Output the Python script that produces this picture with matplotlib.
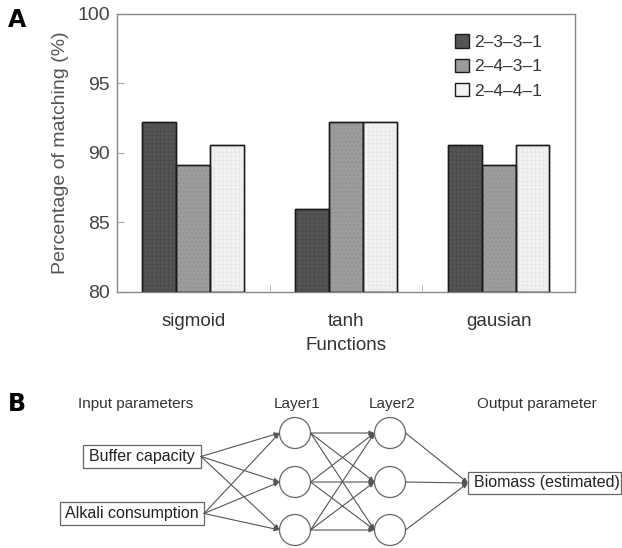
#!/usr/bin/env python3
"""
Matching percentage by activation function (A) and network sketch (B)
"""

import matplotlib
matplotlib.use('Agg')
import matplotlib.pyplot as plt
from matplotlib.patches import Circle, Rectangle, FancyArrowPatch
import numpy as np

plt.rcParams['font.family'] = ['Liberation Sans', 'DejaVu Sans']
plt.rcParams['hatch.linewidth'] = 0.5

# Panel A data
functions = ['sigmoid', 'tanh', 'gausian']
architectures = ['2–3–3–1', '2–4–3–1', '2–4–4–1']
match_2331 = [92.2, 86.0, 90.6]
match_2431 = [89.1, 92.2, 89.1]
match_2441 = [90.6, 92.2, 90.6]

# Panel B labels
input_names = ['Buffer capacity', 'Alkali consumption']
output_name = 'Biomass (estimated)'
layer_names = ['Layer1', 'Layer2']


def draw_bars(fig):
    ax = fig.add_axes([0.188, 0.4672, 0.7363, 0.5073])
    x = np.arange(len(functions))
    width = 0.222
    series = [match_2331, match_2431, match_2441]
    colors = ['#555555', '#9c9c9c', '#f3f3f3']
    textures = ['#4a4a4a', '#8c8c8c', '#e4e4e4']
    hatches = ['++++', '....', '++++']
    for i, (vals, col, lab) in enumerate(zip(series, colors, architectures)):
        pos = x + (i - 1) * width
        h = np.array(vals) - 80
        ax.bar(pos, h, width, bottom=80, color=col, edgecolor='#1a1a1a',
               linewidth=1.0, label=lab, zorder=2)
        # faint screen texture like the printed original, then redraw the outline
        ax.bar(pos, h, width, bottom=80, fill=False, edgecolor=textures[i],
               linewidth=0, hatch=hatches[i], zorder=2.5)
        ax.bar(pos, h, width, bottom=80, fill=False, edgecolor='#1a1a1a',
               linewidth=1.0, zorder=3)

    ax.set_xlim(-0.5, 2.5)
    ax.set_ylim(80, 100)
    ax.set_yticks([80, 85, 90, 95, 100])
    ax.set_xticks(x)
    ax.set_xticklabels(functions)
    ax.set_xticks([0.5, 1.5], minor=True)
    ax.tick_params(axis='x', which='major', length=0, pad=15, labelsize=13.5, labelcolor='#333333')
    ax.tick_params(axis='x', which='minor', direction='in', length=5, color='#aaaaaa')
    ax.tick_params(axis='y', direction='in', length=5, color='#aaaaaa', pad=5,
                   labelsize=14, labelcolor='#444444')
    ax.set_xlabel('Functions', fontsize=13.5, color='#333333', labelpad=5)
    ax.set_ylabel('Percentage of matching (%)', fontsize=14, color='#555555', labelpad=6)
    for sp in ax.spines.values():
        sp.set_color('#888888')
        sp.set_linewidth(1.0)

    ax.legend(loc='upper right', bbox_to_anchor=(0.955, 0.97), frameon=False,
              fontsize=12.5, handlelength=0.8, handleheight=0.8, handletextpad=0.3,
              labelspacing=0.5, borderaxespad=0.3, labelcolor='#333333')
    return ax


def draw_network(fig):
    ax = fig.add_axes([0, 0, 1, 1], zorder=-1)
    ax.set_xlim(0, 622)
    ax.set_ylim(548, 0)
    ax.axis('off')

    txt = dict(fontsize=11, color='#333333', ha='center', va='center')
    ax.text(136, 404, 'Input parameters', **txt)
    ax.text(297, 404, layer_names[0], **txt)
    ax.text(392, 404, layer_names[1], **txt)
    ax.text(537, 404, 'Output parameter', **txt)

    # input boxes
    in_boxes = [(83, 201, 456.5), (60, 204, 513.5)]
    for (x0, x1, yc), name in zip(in_boxes, input_names):
        ax.add_patch(Rectangle((x0, yc - 11.5), x1 - x0, 23, fill=False,
                               edgecolor='#666666', linewidth=0.9))
        ax.text((x0 + x1) / 2, yc, name, fontsize=11.5, color='#222222',
                ha='center', va='center')

    node_y = [433, 482, 530]
    r = 15.5
    l1x, l2x = 295, 390
    for cx in (l1x, l2x):
        for cy in node_y:
            ax.add_patch(Circle((cx, cy), r, fill=False, edgecolor='#666666', linewidth=0.9))

    # output box
    ox0, oyc = 468, 483
    ax.add_patch(Rectangle((ox0, oyc - 11), 621 - ox0, 22, fill=False,
                           edgecolor='#666666', linewidth=0.9, clip_on=False))
    ax.text(ox0 + 6, oyc, output_name, fontsize=11.5, color='#222222', ha='left', va='center')

    def arrow(p0, p1):
        ax.add_patch(FancyArrowPatch(p0, p1, arrowstyle='-|>,head_length=0.3,head_width=0.13',
                                     color='#555555', linewidth=0.8,
                                     shrinkA=0, shrinkB=0, mutation_scale=10))

    for x0, x1, yc in in_boxes:
        for cy in node_y:
            arrow((x1, yc), (l1x - r, cy))
    for cy0 in node_y:
        for cy1 in node_y:
            arrow((l1x + r, cy0), (l2x - r, cy1))
    for cy in node_y:
        arrow((l2x + r, cy), (ox0, oyc))


fig = plt.figure(figsize=(6.22, 5.48), dpi=100)
draw_network(fig)
draw_bars(fig)
fig.text(0.013, 0.95, 'A', fontsize=17, fontweight='bold', fontfamily='DejaVu Sans')
fig.text(0.013, 0.25, 'B', fontsize=17, fontweight='bold', fontfamily='DejaVu Sans')
fig.savefig('out.png', dpi=100)
